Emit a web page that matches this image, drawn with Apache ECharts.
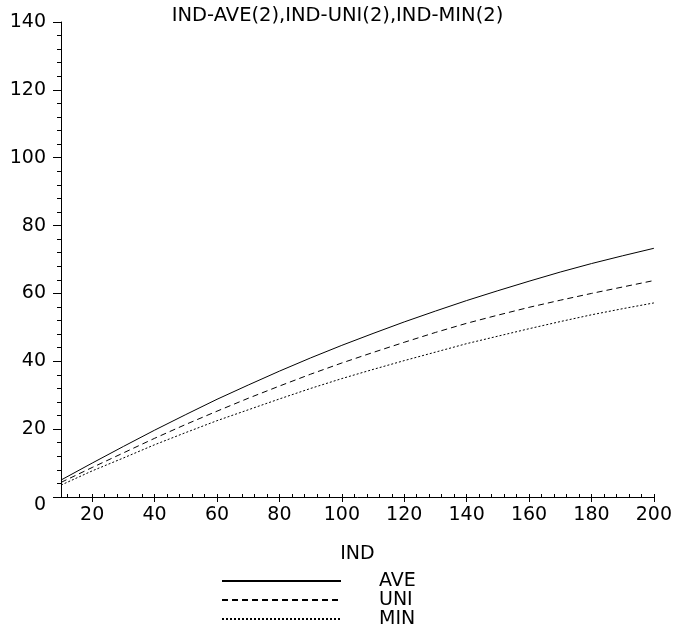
<!DOCTYPE html>
<html>
<head>
  <meta charset="utf-8">
  <title>IND-AVE(2),IND-UNI(2),IND-MIN(2)</title>
  <style>
    html, body { margin: 0; padding: 0; background: #fff; }
    #main { width: 675px; height: 630px; }
  </style>
</head>
<body>
<div id="main"></div>
<script src="https://cdn.jsdelivr.net/npm/echarts@6/dist/echarts.min.js"></script>
<script>
  // values, IND = 10, 20, ..., 200
  var ind = [10, 20, 30, 40, 50, 60, 70, 80, 90, 100, 110, 120, 130, 140, 150, 160, 170, 180, 190, 200];
  var ave = [5.0, 10.0, 14.9, 19.7, 24.3, 28.8, 33.0, 37.1, 41.0, 44.7, 48.2, 51.6, 54.8, 57.9, 60.8, 63.6, 66.3, 68.8, 71.1, 73.3];
  var uni = [4.3, 8.7, 13.0, 17.3, 21.4, 25.3, 29.1, 32.7, 36.2, 39.5, 42.6, 45.6, 48.5, 51.2, 53.6, 55.9, 58.0, 60.0, 61.9, 63.8];
  var min = [3.5, 7.7, 11.5, 15.4, 19.0, 22.5, 25.7, 28.9, 32.0, 34.9, 37.6, 40.2, 42.7, 45.2, 47.4, 49.6, 51.7, 53.7, 55.5, 57.2];
  var xLabels = [20, 40, 60, 80, 100, 120, 140, 160, 180, 200];
  var names = ['AVE', 'UNI', 'MIN'];

  // small ticks every 4 along IND
  var xMinor = [];
  for (var t = 12; t <= 200; t += 4) xMinor.push(t);

  function pairs(ys) {
    return ind.map(function (x, i) { return [x, ys[i]]; });
  }

  var font = 'DejaVu Sans';

  // one legend per row so nothing wraps into columns
  var legendTops = [570, 589, 608];
  var legends = names.map(function (n, i) {
    return {
      orient: 'vertical',
      left: 221,
      top: legendTops[i],
      padding: 0,
      itemWidth: 119,
      itemHeight: 14,
      itemStyle: { color: 'rgba(0,0,0,0)', borderWidth: 0 },
      textStyle: { fontFamily: font, fontSize: 19, lineHeight: 22, color: '#000', padding: [0, 0, 0, 33] },
      data: [n]
    };
  });

  var myChart = echarts.init(document.getElementById('main'));
  myChart.setOption({
    animation: false,
    backgroundColor: '#fff',
    title: {
      text: 'IND-AVE(2),IND-UNI(2),IND-MIN(2)',
      left: 'center',
      top: 1,
      textStyle: { fontFamily: font, fontSize: 19.5, fontWeight: 'normal', color: '#000' }
    },
    grid: { left: 61, right: 18, top: 22, bottom: 133 },
    legend: legends,
    xAxis: [
      {
        type: 'value',
        min: 10,
        max: 200,
        name: 'IND',
        nameLocation: 'middle',
        nameGap: 48,
        nameTextStyle: { fontFamily: font, fontSize: 19, color: '#000' },
        axisLine: { lineStyle: { color: '#000', width: 1 } },
        axisTick: { customValues: xLabels, length: 5, lineStyle: { color: '#000' } },
        axisLabel: { customValues: xLabels, margin: 9, fontFamily: font, fontSize: 19, color: '#000' },
        splitLine: { show: false }
      },
      {
        type: 'value',
        min: 10,
        max: 200,
        position: 'bottom',
        axisLine: { show: false },
        axisTick: { customValues: xMinor, inside: true, length: 3, lineStyle: { color: '#000' } },
        axisLabel: { show: false },
        splitLine: { show: false }
      }
    ],
    yAxis: {
      type: 'value',
      min: 0,
      max: 140,
      interval: 20,
      axisLine: { show: true, lineStyle: { color: '#000', width: 1 } },
      axisTick: { show: true, length: 8, lineStyle: { color: '#000' } },
      minorTick: { show: true, splitNumber: 5, length: 4, lineStyle: { color: '#000' } },
      axisLabel: {
        margin: 15,
        fontFamily: font,
        fontSize: 19,
        color: '#000',
        formatter: function (v) { return v === 0 ? '{z|0}' : String(v); },
        rich: { z: { fontFamily: font, fontSize: 19, color: '#000', padding: [16, 0, 0, 0] } }
      },
      splitLine: { show: false }
    },
    series: [
      {
        name: 'AVE', type: 'line', data: pairs(ave), showSymbol: false, symbol: 'none',
        lineStyle: { color: '#000', width: 1, type: 'solid' }, itemStyle: { color: '#000' }
      },
      {
        name: 'UNI', type: 'line', data: pairs(uni), showSymbol: false, symbol: 'none',
        lineStyle: { color: '#000', width: 1, type: [6, 4] }, itemStyle: { color: '#000' }
      },
      {
        name: 'MIN', type: 'line', data: pairs(min), showSymbol: false, symbol: 'none',
        lineStyle: { color: '#000', width: 1, type: [2, 2] }, itemStyle: { color: '#000' }
      }
    ]
  });
</script>
</body>
</html>
